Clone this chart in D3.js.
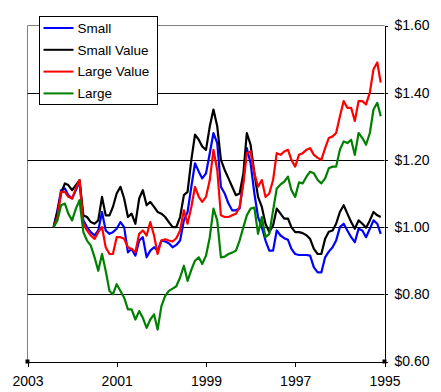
<!DOCTYPE html>
<html>
<head>
<meta charset="utf-8">
<script src="https://cdn.jsdelivr.net/npm/d3@7"></script>
<style>
  body { margin: 0; background: #fff; }
  text { font-family: Arial, "Liberation Sans", sans-serif; fill: #000; }
</style>
</head>
<body>
<div class="chart"></div>
<script>
// ============================================================================
// Data
// ============================================================================

// monthly points, first one is June 2002, going back to Feb 1995
var startMonth = new Date(2002, 5, 1);

var seriesNames = ['Small', 'Small Value', 'Large Value', 'Large'];
var seriesColors = ['#0000ff', '#000000', '#ff0000', '#008000'];

var small = [
  1.00, 1.05, 1.11, 1.115, 1.095, 1.085, 1.11, 1.135, 1.02, 1.00,
  0.985, 0.975, 0.99, 1.045, 0.99, 0.98, 0.985, 0.995, 1.015, 1.00,
  0.925, 0.935, 0.915, 0.96, 0.97, 0.91, 0.93, 0.94, 0.93, 0.96,
  0.957, 0.952, 0.94, 0.947, 0.96, 1.02, 1.045, 1.12, 1.19, 1.165,
  1.145, 1.16, 1.22, 1.28, 1.25, 1.12, 1.10, 1.07, 1.05, 1.05,
  1.055, 1.14, 1.235, 1.19, 1.10, 1.03, 1.00, 0.96, 0.93, 0.93,
  0.99, 0.975, 0.967, 0.962, 0.935, 0.92, 0.917, 0.917, 0.917, 0.915,
  0.88, 0.865, 0.865, 0.91, 0.927, 0.94, 0.96, 1.00, 1.01, 0.99,
  0.97, 0.955, 0.995, 0.99, 0.97, 0.995, 1.02, 1.01, 0.98
];

var smallValue = [
  1.00, 1.045, 1.10, 1.13, 1.125, 1.11, 1.125, 1.14, 1.035, 1.03,
  1.015, 1.01, 1.02, 1.09, 1.035, 1.035, 1.06, 1.10, 1.12, 1.085,
  1.03, 1.04, 1.01, 1.085, 1.11, 1.065, 1.075, 1.06, 1.045, 1.04,
  1.03, 1.015, 1.00, 1.00, 1.03, 1.095, 1.105, 1.20, 1.275, 1.26,
  1.24, 1.23, 1.30, 1.35, 1.30, 1.20, 1.17, 1.145, 1.12, 1.095,
  1.10, 1.16, 1.28, 1.245, 1.16, 1.09, 1.06, 1.01, 0.985, 1.005,
  1.055, 1.04, 1.025, 1.025, 1.00, 0.985, 0.985, 0.982, 0.976, 0.965,
  0.935, 0.92, 0.92, 0.965, 0.986, 0.99, 1.01, 1.045, 1.065, 1.04,
  1.015, 0.995, 1.02, 1.01, 0.998, 1.02, 1.045, 1.035, 1.03
];

var largeValue = [
  1.00, 1.03, 1.105, 1.105, 1.09, 1.085, 1.115, 1.14, 1.01, 0.99,
  0.975, 0.965, 0.985, 1.00, 0.94, 0.92, 0.92, 0.97, 0.97, 0.965,
  0.94, 0.935, 0.925, 0.98, 0.99, 0.975, 1.015, 0.975, 0.92, 0.96,
  0.964, 0.96, 0.957, 0.967, 0.99, 1.05, 1.01, 1.06, 1.12, 1.09,
  1.075, 1.09, 1.14, 1.23, 1.17, 1.035, 1.03, 1.03, 1.035, 1.04,
  1.06, 1.13, 1.22, 1.225, 1.16, 1.12, 1.14, 1.09, 1.10, 1.14,
  1.22, 1.215, 1.225, 1.23, 1.20, 1.18, 1.215, 1.22, 1.23, 1.235,
  1.215, 1.206, 1.20, 1.235, 1.265, 1.27, 1.28, 1.33, 1.375, 1.355,
  1.355, 1.316, 1.375, 1.375, 1.365, 1.40, 1.47, 1.49, 1.43
];

var large = [
  1.00, 1.02, 1.065, 1.07, 1.04, 1.02, 1.055, 1.08, 0.985, 0.96,
  0.945, 0.91, 0.87, 0.92, 0.87, 0.81, 0.80, 0.83, 0.81, 0.79,
  0.755, 0.755, 0.725, 0.75, 0.73, 0.70, 0.725, 0.74, 0.695, 0.765,
  0.795, 0.81, 0.817, 0.824, 0.85, 0.885, 0.84, 0.873, 0.90, 0.91,
  0.89, 0.915, 0.97, 1.055, 1.02, 0.91, 0.912, 0.92, 0.924, 0.93,
  0.96, 1.00, 1.035, 1.055, 1.058, 0.98, 1.03, 0.97, 0.98, 1.05,
  1.115, 1.127, 1.135, 1.15, 1.11, 1.09, 1.133, 1.13, 1.15, 1.165,
  1.16, 1.14, 1.13, 1.145, 1.175, 1.18, 1.18, 1.23, 1.255, 1.25,
  1.26, 1.215, 1.28, 1.265, 1.245, 1.28, 1.35, 1.37, 1.33
];

var yTicks = [0.6, 0.8, 1.0, 1.2, 1.4, 1.6];
var xTickYears = [2003, 2001, 1999, 1997, 1995];

// ============================================================================
// Create SVG
// ============================================================================

var svgWidth = 441;
var svgHeight = 392;

var plot = { left: 27.5, right: 384.5, top: 25.5, bottom: 361.5 };

var svg = d3.select('.chart')
  .append('svg')
  .attr('width', svgWidth)
  .attr('height', svgHeight);

svg.append('rect')
  .attr('width', svgWidth)
  .attr('height', svgHeight)
  .attr('fill', '#ffffff');

// time runs right to left
var xScale = d3.scaleTime()
  .domain([new Date(2003, 0, 1), new Date(1995, 0, 1)])
  .range([plot.left, plot.right]);

var yScale = d3.scaleLinear()
  .domain([0.6, 1.6])
  .range([plot.bottom, plot.top]);

var allSeries = [small, smallValue, largeValue, large].map(function(vals, k) {
  return {
    name: seriesNames[k],
    color: seriesColors[k],
    points: vals.map(function(v, i) {
      return { date: d3.timeMonth.offset(startMonth, -i), value: v };
    })
  };
});

// ============================================================================
// Frame and gridlines
// ============================================================================

// grey top and left border
svg.append('line')
  .attr('x1', plot.left).attr('x2', plot.right)
  .attr('y1', plot.top).attr('y2', plot.top)
  .attr('stroke', '#808080');

svg.append('line')
  .attr('x1', plot.left).attr('x2', plot.left)
  .attr('y1', plot.top).attr('y2', plot.bottom)
  .attr('stroke', '#808080');

svg.append('g')
  .selectAll('line')
  .data([0.8, 1.0, 1.2, 1.4])
  .enter()
    .append('line')
    .attr('x1', plot.left)
    .attr('x2', plot.right)
    .attr('y1', d => Math.round(yScale(d)) + 0.5)
    .attr('y2', d => Math.round(yScale(d)) + 0.5)
    .attr('stroke', '#000');

// ============================================================================
// Axes
// ============================================================================

var yAxis = d3.axisRight(yScale)
  .tickValues(yTicks)
  .tickSize(3)
  .tickSizeOuter(0)
  .tickPadding(7)
  .tickFormat(d => '$' + d.toFixed(2));

var yAxisGroup = svg.append('g')
  .attr('transform', `translate(${plot.right}, 0)`)
  .call(yAxis);

var xAxis = d3.axisBottom(xScale)
  .tickValues(xTickYears.map(y => new Date(y, 0, 1)))
  .tickSize(5)
  .tickSizeOuter(0)
  .tickPadding(10)
  .tickFormat(d3.timeFormat('%Y'));

var xAxisGroup = svg.append('g')
  .attr('transform', `translate(0, ${plot.bottom})`)
  .call(xAxis);

[xAxisGroup, yAxisGroup].forEach(function(g) {
  g.selectAll('text')
    .style('font-size', '14px')
    .style('font-family', 'Arial, "Liberation Sans", sans-serif');
  g.selectAll('path, line')
    .attr('stroke', '#000')
    .attr('shape-rendering', 'crispEdges');
});

// little corner markers at both ends of the time axis
svg.append('g')
  .selectAll('rect')
  .data([plot.left, plot.right])
  .enter()
    .append('rect')
    .attr('x', d => d - 2)
    .attr('y', plot.bottom - 2)
    .attr('width', 4)
    .attr('height', 4)
    .attr('fill', '#000');

// ============================================================================
// Lines
// ============================================================================

var line = d3.line()
  .x(d => xScale(d.date))
  .y(d => yScale(d.value));

svg.append('g')
  .selectAll('path')
  .data(allSeries)
  .enter()
    .append('path')
    .attr('d', d => line(d.points))
    .attr('fill', 'none')
    .attr('stroke', d => d.color)
    .attr('stroke-width', 2.2)
    .attr('stroke-linejoin', 'round');

// ============================================================================
// Legend
// ============================================================================

var legend = svg.append('g')
  .attr('transform', 'translate(39.5, 16.5)');

legend.append('rect')
  .attr('width', 118)
  .attr('height', 88)
  .attr('fill', '#fff')
  .attr('stroke', '#000');

var legendRows = legend.selectAll('g.row')
  .data(allSeries)
  .enter()
    .append('g')
    .attr('class', 'row')
    .attr('transform', (d, i) => `translate(0, ${11.5 + i * 21.8})`);

legendRows.append('line')
  .attr('x1', 4)
  .attr('x2', 34)
  .attr('stroke', d => d.color)
  .attr('stroke-width', 2);

legendRows.append('text')
  .attr('x', 38)
  .attr('dy', '0.36em')
  .style('font-size', '13.5px')
  .text(d => d.name);
</script>
</body>
</html>
